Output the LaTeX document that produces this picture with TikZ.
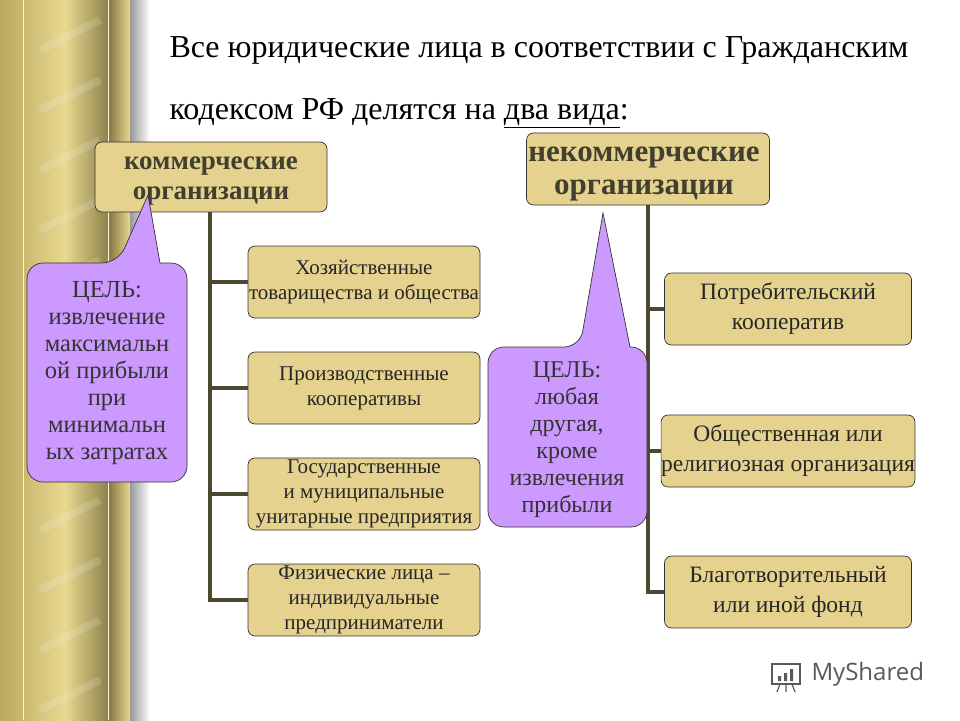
\documentclass[tikz,border=0pt]{standalone}
\usepackage{fontspec}
\setmainfont{Liberation Serif}
\newfontfamily\logofont{Open Sans}
\usetikzlibrary{shadings}
\begin{document}
\begin{tikzpicture}[x=1pt,y=-1pt,
  box/.style={draw=black!80,fill=gold,rounded corners=7pt,line width=0.7pt,align=center,inner sep=0pt,font=\fontsize{21}{25}\selectfont,text=black!85},
  tree/.style={line width=4pt,draw=olive!40!black},
  call/.style={draw=black!80,fill=lilac,line width=0.7pt,rounded corners=16pt}]
\definecolor{gold}{HTML}{E6D28F}
\definecolor{lilac}{HTML}{CC99FF}
\definecolor{colA}{HTML}{B8A860}
\definecolor{colB}{HTML}{E8D890}
\definecolor{colC}{HTML}{8A7E48}
\useasboundingbox (0,0) rectangle (960,720);
\fill[white] (0,0) rectangle (960,720);
% column
\shade[left color=colA,right color=colB] (0,0) rectangle (65,720);
\shade[left color=colB,right color=colC] (65,0) rectangle (110,720);
\shade[left color=colC,right color=colB] (110,0) rectangle (130,720);
\shade[left color=gray!80,right color=white] (130,0) rectangle (150,720);
\foreach \y in {-40,20,...,760} \draw[white,opacity=0.15,line width=8pt] (40,\y+30) -- (100,\y);
\draw[white!70!colB,line width=0.8pt] (23,0) -- (23,720) (108,0) -- (108,720);
% title
\node[anchor=west,font=\fontsize{32}{34}\selectfont] (t1) at (166,50) {Все юридические лица в соответствии с Гражданским};
\node[anchor=west,font=\fontsize{32}{34}\selectfont] (t2) at (166,113) {кодексом РФ делятся на \underline{два вида}:};
% tree lines
\coordinate (lv1) at (210,212); \coordinate (lv2) at (210,602);
\draw[tree] (lv1) -- (lv2);
\coordinate (rv1) at (648,205); \coordinate (rv2) at (648,594);
\draw[tree] (rv1) -- (rv2);
% heads
\node[box,minimum width=232pt,minimum height=70pt] (com) at (211,177) {};
\node[font=\bfseries\fontsize{27}{30}\selectfont,text=olive!30!black,align=center] (comt) at (211,181) {коммерческие\\организации};
\node[box,minimum width=243pt,minimum height=72pt] (nc) at (648,169) {};
\node[font=\bfseries\fontsize{31}{33}\selectfont,text=olive!30!black,align=center] (nct) at (644,174) {некоммерческие\\организации};
% left children
\node[box,minimum width=232pt,minimum height=72pt] (l1) at (364,282) {Хозяйственные\\ товарищества и общества};
\node[box,minimum width=232pt,minimum height=72pt] (l2) at (364,388) {Производственные\\кооперативы};
\node[box,minimum width=232pt,minimum height=72pt] (l3) at (364,494) {Государственные\\и муниципальные\\ унитарные предприятия};
\node[box,minimum width=232pt,minimum height=72pt] (l4) at (364,600) {Физические лица –\\индивидуальные\\предприниматели};
\foreach \n/\y in {l1/282,l2/388,l3/494,l4/600} \draw[tree] (208,\y) -- (\n.west);
% right children
\node[box,minimum width=247pt,minimum height=72pt,font=\fontsize{23.5}{30}\selectfont] (r1) at (788,309) {Потребительский\\кооператив};
\node[box,minimum width=247pt,minimum height=72pt,font=\fontsize{23.5}{30}\selectfont] (r2) at (788,451) {Общественная или\\ религиозная организация};
\node[box,minimum width=247pt,minimum height=72pt,font=\fontsize{23.5}{30}\selectfont] (r3) at (788,592) {Благотворительный\\или иной фонд};
\foreach \n/\y in {r1/309,r2/451,r3/592} \draw[tree] (646,\y) -- (\n.west);
% callouts
\coordinate (tipL) at (148,195);
\draw[call] (27,263) -- (118,263) [sharp corners]-- (tipL) -- (160,263) [rounded corners=16pt]-- (187,263) -- (187,482) -- (27,482) -- cycle;
\node[align=center,font=\fontsize{24.5}{27}\selectfont,text=black!80] (cl) at (107,373) {ЦЕЛЬ:\\извлечение\\максимальн\\ой прибыли\\при\\минимальн\\ых затратах};
\coordinate (tipR) at (603,213);
\draw[call] (488,347) -- (580,347) [sharp corners]-- (tipR) -- (630,347) [rounded corners=16pt]-- (647,347) -- (647,527) -- (488,527) -- cycle;
\node[align=center,font=\fontsize{24}{27}\selectfont,text=black!80] (cr) at (567,440) {ЦЕЛЬ:\\любая\\другая,\\кроме\\извлечения\\прибыли};
% logo
\node[anchor=west,font=\logofont\fontsize{24}{26}\selectfont,text=black!65] (logo) at (808,674) {MyShared};
\draw[black!65,line width=1.5pt] (772,664) rectangle (800,684);
\fill[black!65] (778,676) rectangle (781,681) (784,673) rectangle (787,681) (790,669) rectangle (793,681);
\draw[black!65,line width=1.2pt] (780,684) -- (777,692) (786,684) -- (786,692) (792,684) -- (795,692);
\end{tikzpicture}
\end{document}
